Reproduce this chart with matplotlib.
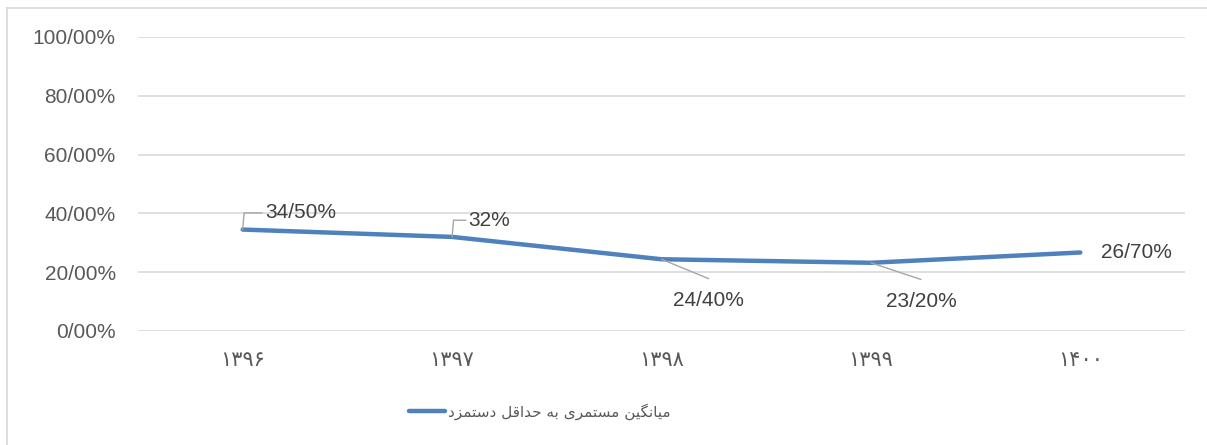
import numpy as np
import matplotlib
matplotlib.use("Agg")
import matplotlib.pyplot as plt
from matplotlib.lines import Line2D

plt.rcParams['font.family'] = ['Liberation Sans', 'DejaVu Sans']

years = ['۱۳۹۶', '۱۳۹۷', '۱۳۹۸', '۱۳۹۹', '۱۴۰۰']
values = [34.5, 32.0, 24.4, 23.2, 26.7]
value_labels = ['34/50%', '32%', '24/40%', '23/20%', '26/70%']
y_ticks = [0, 20, 40, 60, 80, 100]
y_tick_labels = ['0/00%', '20/00%', '40/00%', '60/00%', '80/00%', '100/00%']
series_name = 'میانگین مستمری به حداقل دستمزد'

# simple persian shaping: presentation forms (iso, final, initial, medial)
FORMS = {
    'ا': ('\uFE8D', '\uFE8E', None, None),
    'ب': ('\uFE8F', '\uFE90', '\uFE91', '\uFE92'),
    'ت': ('\uFE95', '\uFE96', '\uFE97', '\uFE98'),
    'ح': ('\uFEA1', '\uFEA2', '\uFEA3', '\uFEA4'),
    'د': ('\uFEA9', '\uFEAA', None, None),
    'ر': ('\uFEAD', '\uFEAE', None, None),
    'ز': ('\uFEAF', '\uFEB0', None, None),
    'س': ('\uFEB1', '\uFEB2', '\uFEB3', '\uFEB4'),
    'ق': ('\uFED5', '\uFED6', '\uFED7', '\uFED8'),
    'ل': ('\uFEDD', '\uFEDE', '\uFEDF', '\uFEE0'),
    'م': ('\uFEE1', '\uFEE2', '\uFEE3', '\uFEE4'),
    'ن': ('\uFEE5', '\uFEE6', '\uFEE7', '\uFEE8'),
    'ه': ('\uFEE9', '\uFEEA', '\uFEEB', '\uFEEC'),
    'ی': ('\uFBFC', '\uFBFD', '\uFBFE', '\uFBFF'),
    'گ': ('\uFB92', '\uFB93', '\uFB94', '\uFB95'),
}


def shape(text):
    out = []
    for i, ch in enumerate(text):
        if ch not in FORMS:
            out.append(ch)
            continue
        prev = text[i - 1] if i > 0 else ''
        nxt = text[i + 1] if i + 1 < len(text) else ''
        join_prev = prev in FORMS and FORMS[prev][2] is not None
        join_next = nxt in FORMS and FORMS[ch][2] is not None
        iso, fin, ini, med = FORMS[ch]
        if join_prev and join_next:
            out.append(med)
        elif join_prev:
            out.append(fin)
        elif join_next:
            out.append(ini)
        else:
            out.append(iso)
    return ''.join(out)[::-1]


fig = plt.figure(figsize=(12.07, 4.45), dpi=100)
ax = fig.add_axes([0.1143, 0.2562, 0.9818 - 0.1143, 0.9169 - 0.2562])

x = np.arange(len(years))
blue = '#4F81BD'
ax.plot(x, values, color=blue, lw=3.2, solid_capstyle='round', zorder=3)

ax.set_xlim(-0.5, len(years) - 0.5)
ax.set_ylim(0, 100)
ax.set_yticks(y_ticks)
ax.set_yticklabels(y_tick_labels)
ax.set_xticks(x)
ax.set_xticklabels(years, family=['DejaVu Sans'], fontsize=15, color='#595959')
ax.tick_params(axis='y', length=0, pad=16, labelsize=15, labelcolor='#595959')
ax.tick_params(axis='x', length=0, pad=14)
ax.grid(axis='y', color='#D9D9D9', lw=1.2)
for s in ax.spines.values():
    s.set_visible(False)

# data labels with leader lines (offsets in points)
lead = '#A6A6A6'
fs = 15
label_pos = [(16, 12), (12, 12), (34, -24), (36, -22), (None, None)]
for i, (v, t) in enumerate(zip(values, value_labels)):
    dx, dy = label_pos[i]
    if dx is None:
        ax.annotate(t, (x[i], v), xytext=(15, 0), textcoords='offset points',
                    ha='left', va='center', fontsize=fs, color='#404040')
        continue
    if dy > 0:
        ax.annotate(t, (x[i], v), xytext=(dx, dy), textcoords='offset points',
                    ha='left', va='center', fontsize=fs, color='#404040')
        # bent leader: up from the point, then right to the text
        ax.annotate('', xy=(x[i], v), xytext=(dx - 2, dy),
                    textcoords='offset points',
                    arrowprops=dict(arrowstyle='-', color=lead, lw=1,
                                    shrinkA=0, shrinkB=0,
                                    connectionstyle='angle,angleA=180,angleB=85,rad=0'))
    else:
        ax.annotate('', (x[i], v), xytext=(dx, dy + 10), textcoords='offset points',
                    arrowprops=dict(arrowstyle='-', color=lead, lw=1,
                                    shrinkA=0, shrinkB=0))
        ax.annotate(t, (x[i], v), xytext=(dx, dy - 6), textcoords='offset points',
                    ha='center', va='center', fontsize=fs, color='#404040')

handle = Line2D([], [], color=blue, lw=3.2, solid_capstyle='round')
leg = fig.legend([handle], [shape(series_name)], loc='center',
                 bbox_to_anchor=(0.447, 0.075), frameon=False,
                 handlelength=2.4, handletextpad=0.15,
                 prop={'family': ['DejaVu Sans'], 'size': 11})
for t in leg.get_texts():
    t.set_color('#595959')

# outer chart border (left and top visible)
fig.add_artist(Line2D([0.0058, 0.0058], [0, 0.982], color='#D9D9D9', lw=1.2))
fig.add_artist(Line2D([0.0058, 1], [0.982, 0.982], color='#D9D9D9', lw=1.2))

fig.savefig('out.png', dpi=100)
